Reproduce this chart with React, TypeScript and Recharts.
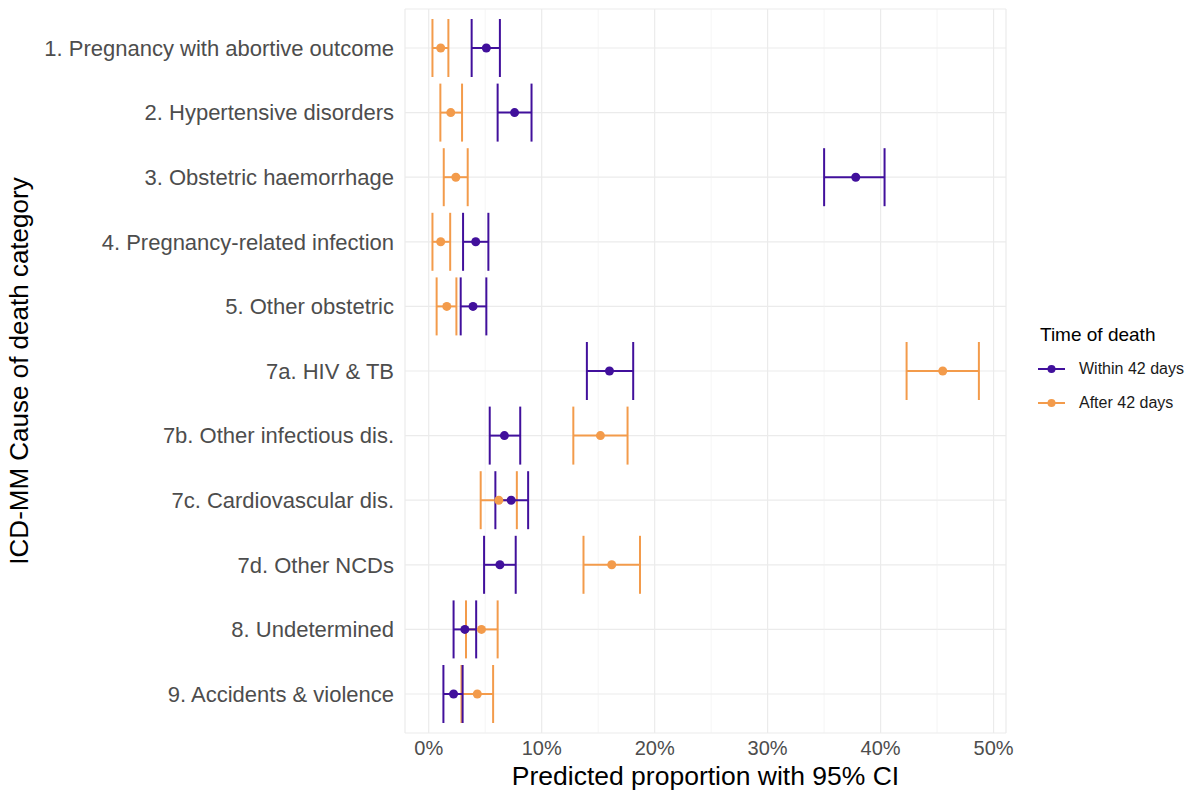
import React from "react";
import {
  ComposedChart,
  Line,
  XAxis,
  YAxis,
  CartesianGrid,
  ErrorBar,
  ReferenceLine,
  Label,
} from "recharts";

const categories = [
  "1. Pregnancy with abortive outcome",
  "2. Hypertensive disorders",
  "3. Obstetric haemorrhage",
  "4. Pregnancy-related infection",
  "5. Other obstetric",
  "7a. HIV & TB",
  "7b. Other infectious dis.",
  "7c. Cardiovascular dis.",
  "7d. Other NCDs",
  "8. Undetermined",
  "9. Accidents & violence",
];

// Within 42 days (percent)
const withinEst = [5.1, 7.6, 37.8, 4.16, 3.92, 16.0, 6.7, 7.3, 6.3, 3.2, 2.2];
const withinLo = [3.8, 6.1, 35.0, 3.04, 2.83, 14.0, 5.4, 5.9, 4.9, 2.2, 1.3];
const withinHi = [6.3, 9.1, 40.35, 5.28, 5.1, 18.1, 8.1, 8.8, 7.7, 4.2, 3.0];

// After 42 days (percent)
const afterEst = [1.06, 1.95, 2.4, 1.06, 1.6, 45.5, 15.2, 6.2, 16.2, 4.67, 4.3];
const afterLo = [0.33, 1.03, 1.33, 0.33, 0.7, 42.3, 12.8, 4.6, 13.7, 3.3, 2.9];
const afterHi = [1.74, 2.95, 3.45, 1.9, 2.45, 48.7, 17.6, 7.8, 18.7, 6.1, 5.7];

const xTicks = [0, 10, 20, 30, 40, 50];
const minorTicks = [5, 15, 25, 35, 45];

const seriesNames = ["Within 42 days", "After 42 days"];

const PURPLE = "#41109c";
const ORANGE = "#f39b4b";
const FONT = "'Liberation Sans', Arial, Helvetica, sans-serif";

const data = categories.map((cat, i) => ({
  cat,
  w: withinEst[i],
  wErr: [withinEst[i] - withinLo[i], withinHi[i] - withinEst[i]],
  a: afterEst[i],
  aErr: [afterEst[i] - afterLo[i], afterHi[i] - afterEst[i]],
}));

const LegendIcon = ({ color }: { color: string }) => (
  <svg width={27} height={16} style={{ display: "block" }}>
    <line x1={0} y1={8} x2={27} y2={8} stroke={color} strokeWidth={2} />
    <circle cx={13.5} cy={8} r={4} fill={color} />
  </svg>
);

export default function App() {
  return (
    <div
      style={{
        position: "absolute",
        left: 0,
        top: 0,
        width: 1194,
        height: 799,
        background: "#ffffff",
        fontFamily: FONT,
      }}
    >
      <ComposedChart
        width={1194}
        height={799}
        data={data}
        layout="vertical"
        margin={{ top: 9, right: 188, bottom: 0, left: 0 }}
      >
        <CartesianGrid stroke="#ebebeb" strokeWidth={1.2} />
        {minorTicks.map((t) => (
          <ReferenceLine key={t} x={t} stroke="#f0f0f0" strokeWidth={0.7} />
        ))}
        <XAxis
          type="number"
          dataKey="w"
          domain={[-2.1, 51.1]}
          allowDataOverflow
          ticks={xTicks}
          tickFormatter={(v: number) => `${v}%`}
          axisLine={false}
          tickLine={false}
          tickSize={0}
          tickMargin={8}
          height={66}
          tick={{ fill: "#4d4d4d", fontSize: 20, fontFamily: FONT }}
        >
          <Label
            content={(props: any) => {
              const vb = props.viewBox || {};
              return (
                <text
                  x={vb.x + vb.width / 2}
                  y={vb.y + 52}
                  textAnchor="middle"
                  fontSize={26.5}
                  fill="#000"
                  fontFamily={FONT}
                >
                  Predicted proportion with 95% CI
                </text>
              );
            }}
          />
        </XAxis>
        <YAxis
          type="category"
          dataKey="cat"
          width={405}
          interval={0}
          axisLine={false}
          tickLine={false}
          tickSize={0}
          tickMargin={11}
          padding={{ top: 39, bottom: 39 }}
          tick={{ fill: "#4d4d4d", fontSize: 22, fontFamily: FONT }}
        >
          <Label
            content={(props: any) => {
              const vb = props.viewBox || {};
              const cx = 19;
              const cy = vb.y + vb.height / 2;
              return (
                <text
                  x={cx}
                  y={cy}
                  textAnchor="middle"
                  dominantBaseline="central"
                  transform={`rotate(-90, ${cx}, ${cy})`}
                  fontSize={26}
                  fill="#000"
                  fontFamily={FONT}
                >
                  ICD-MM Cause of death category
                </text>
              );
            }}
          />
        </YAxis>
        <Line
          name={seriesNames[1]}
          dataKey="a"
          stroke="none"
          isAnimationActive={false}
          dot={{ r: 4.5, fill: ORANGE, stroke: "none" }}
          activeDot={false}
        >
          <ErrorBar dataKey="aErr" direction="x" width={29} stroke={ORANGE} strokeWidth={2} />
        </Line>
        <Line
          name={seriesNames[0]}
          dataKey="w"
          stroke="none"
          isAnimationActive={false}
          dot={{ r: 4.5, fill: PURPLE, stroke: "none" }}
          activeDot={false}
        >
          <ErrorBar dataKey="wErr" direction="x" width={29} stroke={PURPLE} strokeWidth={2} />
        </Line>
      </ComposedChart>
      <div
        style={{
          position: "absolute",
          left: 1038,
          top: 322,
          color: "#000",
        }}
      >
        <div style={{ fontSize: 19, lineHeight: "26px", marginLeft: 2, marginBottom: 4 }}>
          Time of death
        </div>
        {[PURPLE, ORANGE].map((c, i) => (
          <div key={i} style={{ display: "flex", alignItems: "center", height: 34 }}>
            <LegendIcon color={c} />
            <span style={{ fontSize: 16, marginLeft: 14, color: "#1a1a1a" }}>{seriesNames[i]}</span>
          </div>
        ))}
      </div>
    </div>
  );
}
